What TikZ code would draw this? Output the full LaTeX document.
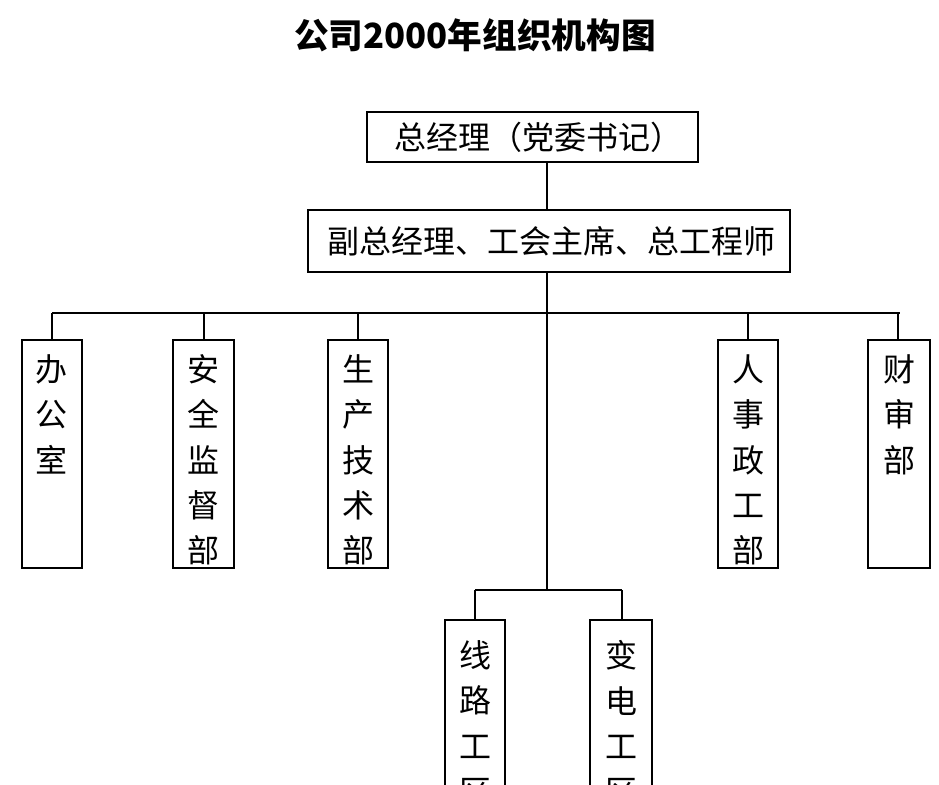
\documentclass[tikz,border=0pt]{standalone}
\usepackage{fontspec}
\setmainfont{Noto Sans CJK SC}
\begin{document}
\begin{tikzpicture}[x=0.75pt,y=-0.75pt,
  box/.style={draw,line width=2.2pt,inner sep=0pt},
  ln/.style={line width=2.2pt},
  t/.style={font=\fontsize{24}{26}\selectfont},
  vt/.style={font=\fontsize{24}{34}\selectfont,align=center,anchor=north}]
\useasboundingbox (0,0) rectangle (939,785);
\clip (0,0) rectangle (939,785);
\node[font=\bfseries\fontsize{26}{28}\selectfont] (title) at (475,35) {公司2000年组织机构图};
\draw[box] (367,112) rectangle (698,162);
\node[t] (gm) at (538,137) {总经理（党委书记）};
\draw[box] (308,210) rectangle (790,272);
\node[t] (vp) at (551,241) {副总经理、工会主席、总工程师};
\coordinate (gmb) at (547,162); \coordinate (vpt) at (547,210);
\coordinate (vpb) at (547,272); \coordinate (mid) at (547,590);
\draw[ln] (gmb) -- (vpt);
\draw[ln] (vpb) -- (mid);
\coordinate (hl) at (52,313); \coordinate (hr) at (900,313);
\draw[ln] (hl) -- (hr);
\foreach \x/\a/\b/\txt in {52/22/82/{办\\公\\室},204/173/234/{安\\全\\监\\督\\部},358/328/388/{生\\产\\技\\术\\部},748/718/778/{人\\事\\政\\工\\部},898/868/930/{财\\审\\部}}{
  \draw[ln] (\x,313) -- (\x,340);
  \draw[box] (\a,340) rectangle (\b,568);
  \node[vt] at ({(\a+\b)/2},350) {\txt};
}
\draw[ln] (475,590) -- (622,590);
\foreach \x/\a/\b/\txt in {475/445/505/{线\\路\\工\\区},622/590/652/{变\\电\\工\\区}}{
  \draw[ln] (\x,590) -- (\x,620);
  \draw[box] (\a,620) rectangle (\b,900);
  \node[vt] at ({(\a+\b)/2},636) {\txt};
}
\end{tikzpicture}
\end{document}
